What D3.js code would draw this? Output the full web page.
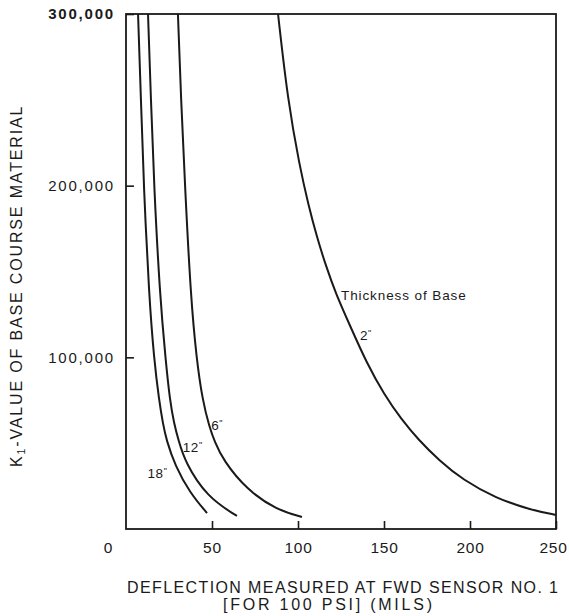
<!DOCTYPE html>
<html>
<head>
<meta charset="utf-8">
<script src="https://cdn.jsdelivr.net/npm/d3@7"></script>
<style>
  html, body { margin: 0; padding: 0; background: #fff; }
  svg { display: block; }
  text { font-family: "Liberation Sans", Arial, Helvetica, sans-serif; fill: #1a1a1a; }
</style>
</head>
<body>
<svg id="chart" width="569" height="616"></svg>
<script>
// ---- data ----
const xTicks = [50, 100, 150, 200, 250];
const yTicks = [100000, 200000, 300000];

// deflection (mils) vs K1 value, per base thickness
const x2in  = [88.4, 94, 101, 106, 111, 116, 122, 130, 140, 150, 160, 170, 182, 196, 215, 235, 250];
const y2in  = [300000, 250000, 211000, 189000, 170000, 154000, 137000, 119000, 96500, 78500, 64000, 52000, 40000, 28500, 18000, 11200, 8200];

const x6in  = [30.2, 32.0, 34.3, 37.6, 41.0, 44.5, 48.5, 51.5, 56.4, 70.3, 87.8, 102.3];
const y6in  = [300000, 250000, 199800, 136000, 99000, 75000, 59400, 51000, 40200, 22700, 11100, 7000];

const x12in = [12.8, 14.5, 16.3, 19.7, 23.0, 25.5, 28.0, 30.5, 34.3, 47.1, 64.5];
const y12in = [300000, 250000, 199800, 136000, 99000, 75000, 61200, 51800, 39000, 18600, 7600];

const x18in = [7.0, 8.7, 10.3, 13.4, 16.3, 19.2, 21.5, 23.5, 28.5, 37.2, 47.1];
const y18in = [300000, 250000, 199800, 136000, 99000, 75100, 61200, 51800, 37000, 21000, 9300];

const seriesNames = ['2"', '6"', '12"', '18"'];
const seriesX = [x2in, x6in, x12in, x18in];
const seriesY = [y2in, y6in, y12in, y18in];
// label anchor points (data coords)
const labelX = [136, 49.5, 33, 12.5];
const labelY = [110000, 57500, 45000, 30000];

// ---- layout ----
const W = 569, H = 616;
const margin = { left: 126, right: 13, top: 14, bottom: 87 };
const iw = W - margin.left - margin.right;
const ih = H - margin.top - margin.bottom;
const ink = "#1a1a1a";

const svg = d3.select("#chart");
const g = svg.append("g").attr("transform", `translate(${margin.left},${margin.top})`);

const x = d3.scaleLinear().domain([0, 250]).range([0, iw]);
const y = d3.scaleLinear().domain([0, 300000]).range([ih, 0]);

// frame
g.append("rect").attr("x", 0).attr("y", 0).attr("width", iw).attr("height", ih)
  .attr("fill", "none").attr("stroke", ink).attr("stroke-width", 1.8);

// x axis
const xa = g.append("g").attr("transform", `translate(0,${ih})`)
  .call(d3.axisBottom(x).tickValues(xTicks).tickSizeInner(-8).tickSizeOuter(0).tickPadding(13).tickFormat(d3.format("d")));
xa.select(".domain").remove();
xa.selectAll("line").attr("stroke", ink).attr("stroke-width", 1.6);
xa.selectAll("text").attr("font-size", 15.5).attr("letter-spacing", 0.8).attr("fill", ink)
  .style("font-family", '"Liberation Sans", Arial, sans-serif')
  .attr("dx", d => d === 250 ? -3 : 0);

// y axis
const ya = g.append("g")
  .call(d3.axisLeft(y).tickValues(yTicks).tickSizeInner(-8).tickSizeOuter(0).tickPadding(11).tickFormat(d3.format(",")));
ya.select(".domain").remove();
ya.selectAll("line").attr("stroke", ink).attr("stroke-width", 1.6);
ya.selectAll("text").attr("font-size", 15).attr("letter-spacing", 1.8).attr("fill", ink)
  .style("font-family", '"Liberation Sans", Arial, sans-serif')
  .attr("font-weight", d => d === 300000 ? "bold" : "normal");

// origin label
g.append("text").attr("x", -18).attr("y", ih + 13).attr("dy", "0.71em")
  .attr("text-anchor", "middle").attr("font-size", 15.5).text("0");

// curves
const line = d3.line().x(d => x(d[0])).y(d => y(d[1])).curve(d3.curveBasis);
seriesX.forEach((xs, i) => {
  const pts = xs.map((v, j) => [v, seriesY[i][j]]);
  g.append("path").datum(pts).attr("d", line)
    .attr("fill", "none").attr("stroke", ink).attr("stroke-width", 2);
});

// curve labels
seriesNames.forEach((name, i) => {
  const t = g.append("text").attr("x", x(labelX[i])).attr("y", y(labelY[i]))
    .attr("font-size", 13.5).attr("letter-spacing", 0.6);
  t.append("tspan").text(name.replace('"', ''));
  t.append("tspan").attr("font-size", 9).attr("dy", -4).text('"');
});

g.append("text").attr("x", x(125)).attr("y", y(133500))
  .attr("font-size", 13.5).attr("letter-spacing", 0.9).text("Thickness of Base");

// axis titles
svg.append("text").attr("x", 127).attr("y", 593)
  .attr("font-size", 16).attr("textLength", 431).attr("lengthAdjust", "spacing")
  .text("DEFLECTION MEASURED AT FWD SENSOR NO. 1");
svg.append("text").attr("x", 223).attr("y", 610)
  .attr("font-size", 16).attr("textLength", 209).attr("lengthAdjust", "spacing")
  .text("[FOR 100 PSI] (MILS)");

const yt = svg.append("text").attr("transform", "translate(22,467) rotate(-90)")
  .attr("text-anchor", "start").attr("font-size", 16).attr("letter-spacing", 1.85);
yt.append("tspan").text("K");
yt.append("tspan").attr("font-size", 10.5).attr("dy", 3).text("1");
yt.append("tspan").attr("dy", -3).text("-VALUE OF BASE COURSE MATERIAL");
</script>
</body>
</html>
